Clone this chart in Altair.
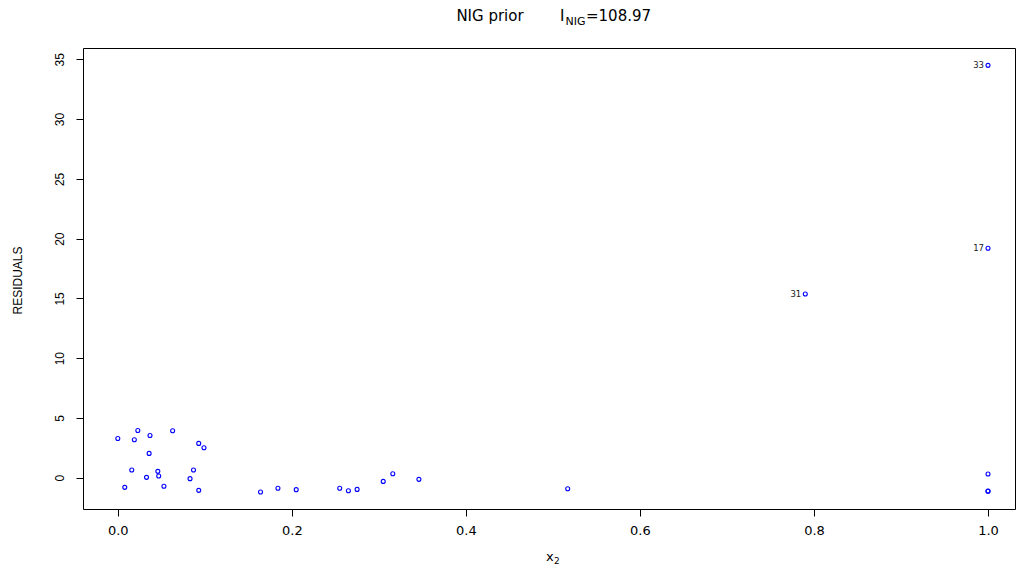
import altair as alt
import pandas as pd

# ---- data ----
x2 = [0.000, 0.023, 0.019, 0.037, 0.063, 0.093, 0.099, 0.036, 0.016, 0.046,
      0.087, 0.033, 0.047, 0.083, 0.008, 0.053, 0.093, 0.164, 0.184, 0.205,
      0.255, 0.265, 0.275, 0.305, 0.316, 0.346, 0.517, 0.790, 1.000, 1.000,
      1.000, 1.000, 1.000]
residuals = [3.28, 3.95, 3.17, 3.53, 3.93, 2.87, 2.51, 2.03, 0.64, 0.53,
             0.64, 0.03, 0.14, -0.08, -0.81, -0.72, -1.06, -1.20, -0.89, -1.00,
             -0.89, -1.09, -0.98, -0.31, 0.33, -0.14, -0.92, 15.37, 34.50, 19.20,
             0.31, -1.14, -1.12]
point_labels = [""] * 27 + ["31", "33", "17", "", "", ""]

x_ticks = [0.0, 0.2, 0.4, 0.6, 0.8, 1.0]
y_ticks = [0, 5, 10, 15, 20, 25, 30, 35]

df = pd.DataFrame({"x2": x2, "res": residuals, "lab": point_labels})

FONT_H = "DejaVu Sans"
FONT_V = "Liberation Sans"

xscale = alt.Scale(domain=[-0.04, 1.031], nice=False, zero=False)
yscale = alt.Scale(domain=[-2.62, 35.95], nice=False, zero=False)

x_axis = alt.Axis(values=x_ticks, format=".1f", title=None, grid=False,
                  domain=False, tickSize=7, tickColor="black", tickWidth=1,
                  labelFont=FONT_H, labelFontSize=13, labelColor="black",
                  labelPadding=8, labelFlush=False)
y_axis = alt.Axis(values=y_ticks, format="d", title="RESIDUALS", grid=False,
                  domain=False, tickSize=7, tickColor="black", tickWidth=1,
                  labelFont=FONT_V, labelFontSize=12, labelColor="black",
                  labelAngle=-90, labelAlign="center", labelBaseline="bottom",
                  labelPadding=10, labelFlush=False,
                  titleFont=FONT_V, titleFontSize=12, titleFontWeight="normal",
                  titleColor="black", titleAngle=-90, titleAlign="center",
                  titleBaseline="middle", titleX=-66, titleY=232)

base = alt.Chart(df)

points = base.mark_point(
    shape="circle", filled=False, color="#0000ff", size=16, strokeWidth=1.1, opacity=1
).encode(
    x=alt.X("x2:Q", scale=xscale, axis=x_axis),
    y=alt.Y("res:Q", scale=yscale, axis=y_axis),
)

labels = base.transform_filter(alt.datum.lab != "").mark_text(
    align="right", baseline="middle", dx=-4, font=FONT_H, fontSize=8.5, color="#222222"
).encode(
    x=alt.X("x2:Q", scale=xscale, axis=x_axis),
    y=alt.Y("res:Q", scale=yscale, axis=y_axis),
    text="lab:N",
)


def txt(s, x, y, size, align="left"):
    return alt.Chart(alt.Data(values=[{"a": 0}])).mark_text(
        text=s, font=FONT_H, fontSize=size, align=align, baseline="alphabetic",
        color="black"
    ).encode(x=alt.value(x), y=alt.value(y))


title_parts = [
    txt("NIG prior", 407, -27, 15, align="center"),
    txt("I", 477, -27, 15),
    txt("NIG", 482.5, -23, 11),
    txt("=108.97", 503, -27, 15),
    txt("x", 463, 513, 13),
    txt("2", 471, 516, 9),
]

chart = alt.layer(points, labels, *title_parts).properties(
    width=932, height=461,
    autosize=alt.AutoSizeParams(type="none"),
    padding={"left": 75, "top": 40, "right": 1, "bottom": 58},
    background="white",
).configure_view(stroke="black", strokeWidth=1)

chart.save("out.html", embed_options={"renderer": "svg", "actions": False})
